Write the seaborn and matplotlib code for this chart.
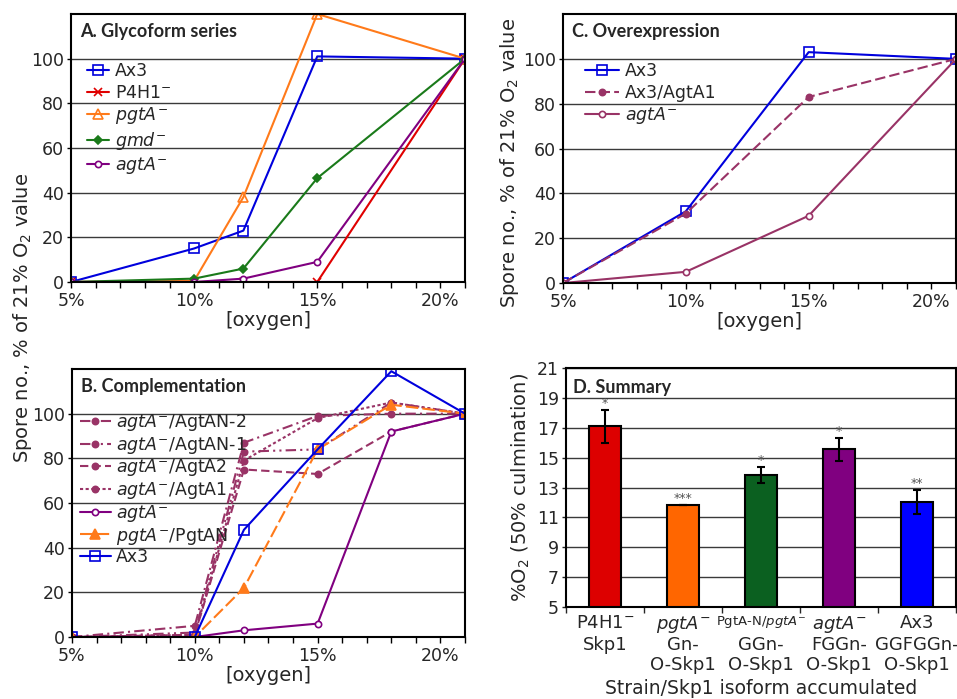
import numpy as np
import pandas as pd
import matplotlib
matplotlib.use("Agg")
import matplotlib.pyplot as plt
import seaborn as sns
from matplotlib.ticker import FixedLocator, MultipleLocator
from matplotlib.transforms import blended_transform_factory

# Panel A - glycoform series
A_OXY = [5, 10, 12, 15, 21]
A_AX3 = [0, 15, 23, 101, 100]
A_P4H1 = [0, 0, 0, 0, 100]
A_PGTA = [0, 0.5, 38, 120, 100]
A_GMD = [0, 1.5, 6, 46.5, 100]
A_AGTA = [0, 0, 1.5, 9, 100]

# Panel C - overexpression
C_OXY = [5, 10, 15, 21]
C_AX3 = [0, 32, 103, 100]
C_AX3_AGTA1 = [0, 31, 83, 100]
C_AGTA = [0, 5, 30, 100]

# Panel B - complementation
B_OXY = [5, 10, 12, 15, 18, 21]
B_AGTAN2 = [0, 5, 87, 99, 100, 100]
B_AGTAN1 = [0, 2, 83, 84, 105, 100]
B_AGTA2 = [0, 1, 75, 73, 92, 100]
B_AGTA1 = [0, 1, 79, 98, 105, 100]
B_AGTA = [0, 0, 3, 6, 92, 100]
B_PGTA_PGTAN = [0, 0, 22, 84, 104, 100]
B_AX3 = [0, 0, 48, 84, 119, 100]

X_TICKS = [5, 10, 15, 20]
Y_TICKS = [0, 20, 40, 60, 80, 100]

# Panel D - summary
D_KEYS = ["P4H1", "pgtA", "PgtA-N", "agtA", "Ax3"]
D_STRAINS = ["P4H1$^{-}$", r"$\mathit{pgtA}^{-}$", r"PgtA-N/$\mathit{pgtA}^{-}$",
             r"$\mathit{agtA}^{-}$", "Ax3"]
D_ISOFORMS = ["Skp1", "Gn-\nO-Skp1", "GGn-\nO-Skp1", "FGGn-\nO-Skp1", "GGFGGn-\nO-Skp1"]
D_MEAN = [17.1, 11.85, 13.85, 15.55, 12.05]
D_ERR = [1.1, 0, 0.52, 0.77, 0.8]
D_STARS = ["*", "***", "*", "*", "**"]
D_YTICKS = [5, 7, 9, 11, 13, 15, 17, 19, 21]

BLUE = "#0000dd"
RED = "#e00000"
ORANGE = "#ff7a1a"
GREEN = "#1a7a1a"
PURPLE = "#800080"
PLUM = "#993366"
D_COLORS = ["#dd0000", "#ff6600", "#0b6020", "#800080", "#0000ff"]

sns.set_theme(style="white")
plt.rcParams["font.family"] = ["DejaVu Sans"]
plt.rcParams["mathtext.fontset"] = "dejavusans"

fig = plt.figure(figsize=(9.57, 6.99), dpi=100)
ax_a = fig.add_axes([0.0742, 0.5966, 0.4117, 0.3834])
ax_c = fig.add_axes([0.5883, 0.5951, 0.4107, 0.3848])
ax_b = fig.add_axes([0.0752, 0.0887, 0.4107, 0.3834])
ax_d = fig.add_axes([0.5914, 0.1316, 0.4075, 0.3419])


def series(ax, x, y, label, color, marker, ms, mfc, ls="-"):
    sns.lineplot(x=x, y=y, ax=ax, label=label, color=color, marker=marker,
                 markersize=ms, markerfacecolor=mfc, markeredgecolor=color,
                 markeredgewidth=1.2, linewidth=1.5, linestyle=ls)


def frame(ax):
    for s in ax.spines.values():
        s.set_color("black")
        s.set_linewidth(1.5)
    ax.grid(axis="y", color="#3a3a3a", linewidth=1)
    ax.set_axisbelow(True)


def panel_title(ax, text, x, y):
    ax.text(x, y, text, transform=ax.transAxes, fontsize=13, family="Lato",
            fontweight="bold", va="top", ha="left")


def oxygen_axes(ax, title, leg_xy, handle_len, spacing):
    ax.set_xlim(5, 21)
    ax.set_ylim(0, 120)
    ax.xaxis.set_major_locator(FixedLocator(X_TICKS))
    ax.set_xticklabels([f"{t}%" for t in X_TICKS])
    ax.xaxis.set_minor_locator(MultipleLocator(1))
    ax.yaxis.set_major_locator(FixedLocator(Y_TICKS))
    ax.tick_params(axis="both", which="both", bottom=True, left=True,
                   direction="out", color="black", labelsize=12.5)
    ax.tick_params(axis="x", which="major", length=4, width=1, pad=3)
    ax.tick_params(axis="x", which="minor", length=4, width=1)
    ax.tick_params(axis="y", which="major", length=3, width=1, pad=2)
    frame(ax)
    ax.set_xlabel("[oxygen]", fontsize=14, labelpad=1)
    ax.set_ylabel("")
    panel_title(ax, title, 0.023, 0.965)
    ax.legend(loc="upper left", bbox_to_anchor=leg_xy, frameon=False,
              fontsize=12.5, handlelength=handle_len, handletextpad=0.3,
              labelspacing=spacing, borderaxespad=0, borderpad=0)


# A
series(ax_a, A_OXY, A_AX3, "Ax3", BLUE, "s", 6.5, "none")
series(ax_a, A_OXY, A_P4H1, "P4H1$^{-}$", RED, "x", 6, RED)
series(ax_a, A_OXY, A_PGTA, r"$\mathit{pgtA}^{-}$", ORANGE, "^", 7, "none")
series(ax_a, A_OXY, A_GMD, r"$\mathit{gmd}^{-}$", GREEN, "D", 4.5, GREEN)
series(ax_a, A_OXY, A_AGTA, r"$\mathit{agtA}^{-}$", PURPLE, "o", 4.5, "white")
oxygen_axes(ax_a, "A. Glycoform series", (0.04, 0.82), 1.3, 0.2)

# C
series(ax_c, C_OXY, C_AX3, "Ax3", BLUE, "s", 6.5, "none")
series(ax_c, C_OXY, C_AX3_AGTA1, "Ax3/AgtA1", PLUM, "o", 4.5, PLUM, (0, (5, 2)))
series(ax_c, C_OXY, C_AGTA, r"$\mathit{agtA}^{-}$", PLUM, "o", 4.5, "white")
oxygen_axes(ax_c, "C. Overexpression", (0.055, 0.82), 2.0, 0.2)
ax_c.set_ylabel("Spore no., % of 21% O$_2$ value", fontsize=14)
ax_c.yaxis.set_label_coords(-0.108, 0.445)

# B
series(ax_b, B_OXY, B_AGTAN2, r"$\mathit{agtA}^{-}$/AgtAN-2", PLUM, "o", 4.5, PLUM, (0, (5, 2, 1, 2)))
series(ax_b, B_OXY, B_AGTAN1, r"$\mathit{agtA}^{-}$/AgtAN-1", PLUM, "o", 4.5, PLUM, (0, (5, 2, 1, 2, 1, 2)))
series(ax_b, B_OXY, B_AGTA2, r"$\mathit{agtA}^{-}$/AgtA2", PLUM, "o", 4.5, PLUM, (0, (4, 2)))
series(ax_b, B_OXY, B_AGTA1, r"$\mathit{agtA}^{-}$/AgtA1", PLUM, "o", 4.5, PLUM, (0, (1.5, 1.2)))
series(ax_b, B_OXY, B_AGTA, r"$\mathit{agtA}^{-}$", PURPLE, "o", 4.5, "white")
series(ax_b, B_OXY, B_PGTA_PGTAN, r"$\mathit{pgtA}^{-}$/PgtAN", ORANGE, "^", 7, ORANGE, (0, (6, 2)))
series(ax_b, B_OXY, B_AX3, "Ax3", BLUE, "s", 6.5, "none")
oxygen_axes(ax_b, "B. Complementation", (0.02, 0.84), 1.8, 0.1)

fig.text(0.023, 0.545, "Spore no., % of 21% O$_2$ value", rotation=90,
         ha="center", va="center", fontsize=14)

# D
d_df = pd.DataFrame({"strain": D_KEYS, "o2": D_MEAN})
sns.barplot(data=d_df, x="strain", y="o2", hue="strain", palette=D_COLORS,
            legend=False, width=0.41, edgecolor="black", linewidth=1.5,
            saturation=1, errorbar=None, ax=ax_d)
ax_d.errorbar(range(len(D_KEYS)), D_MEAN, yerr=D_ERR, fmt="none", ecolor="black",
              elinewidth=1.5, capsize=3, capthick=1.5, zorder=5)
for i, (m, e, s) in enumerate(zip(D_MEAN, D_ERR, D_STARS)):
    ax_d.annotate(s, (i, m + e), xytext=(0, 0), textcoords="offset points",
                  ha="center", va="bottom", fontsize=9, color="#555555")
ax_d.set_xlim(-0.5, len(D_KEYS) - 0.5)
ax_d.set_ylim(5, 21)
ax_d.yaxis.set_major_locator(FixedLocator(D_YTICKS))
ax_d.set_xticks(range(len(D_KEYS)))
ax_d.set_xticklabels(D_ISOFORMS, fontsize=13, linespacing=1.1)
ax_d.xaxis.set_minor_locator(FixedLocator(np.arange(-0.5, len(D_KEYS), 1.0)))
ax_d.tick_params(axis="x", which="major", length=0, pad=21)
ax_d.tick_params(axis="x", which="minor", bottom=True, length=4, width=1, direction="out")
ax_d.tick_params(axis="y", which="major", left=True, length=3, width=1,
                 direction="out", labelsize=12.5, pad=2)
frame(ax_d)
trans = blended_transform_factory(ax_d.transData, ax_d.transAxes)
for i, s in enumerate(D_STRAINS):
    fs = 9.5 if "/" in s else 13
    ax_d.text(i, -0.03, s, transform=trans, ha="center", va="top", fontsize=fs)
ax_d.set_xlabel("Strain/Skp1 isoform accumulated", fontsize=13.5)
ax_d.xaxis.set_label_coords(0.5, -0.30)
ax_d.set_ylabel("%O$_2$ (50% culmination)", fontsize=14)
ax_d.yaxis.set_label_coords(-0.088, 0.5)
panel_title(ax_d, "D. Summary", 0.018, 0.955)

fig.savefig("out.png", dpi=100)
